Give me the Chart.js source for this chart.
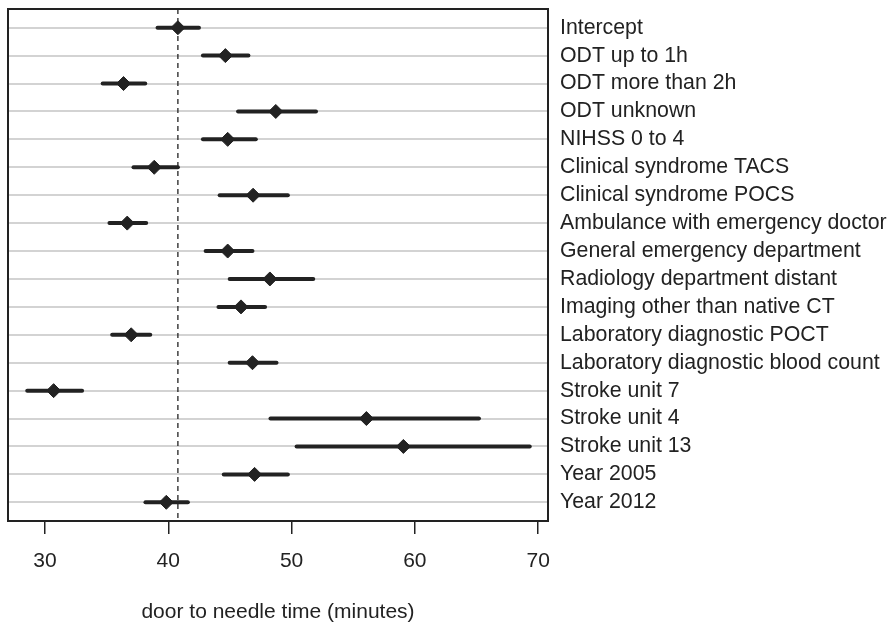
<!DOCTYPE html>
<html>
<head>
<meta charset="utf-8">
<script src="https://cdn.jsdelivr.net/npm/chart.js@4.4.1/dist/chart.umd.min.js"></script>
<style>
body{margin:0;background:#fff;}
canvas{display:block;}
</style>
</head>
<body>
<canvas id="grafico" width="888" height="623"></canvas>
<script>
// forest plot: estimate and CI per factor
const fatores=[
"Intercept",
"ODT up to 1h",
"ODT more than 2h",
"ODT unknown",
"NIHSS 0 to 4",
"Clinical syndrome TACS",
"Clinical syndrome POCS",
"Ambulance with emergency doctor",
"General emergency department",
"Radiology department distant",
"Imaging other than native CT",
"Laboratory diagnostic POCT",
"Laboratory diagnostic blood count",
"Stroke unit 7",
"Stroke unit 4",
"Stroke unit 13",
"Year 2005",
"Year 2012"
];

const estimativa=[40.78,44.63,36.37,48.72,44.82,38.86,46.88,36.67,44.82,48.24,45.90,36.99,46.83,30.70,56.07,59.07,47.00,39.84];
const inferior=[39.13,42.81,34.68,45.66,42.81,37.18,44.17,35.23,43.03,44.98,44.07,35.45,44.98,28.56,48.29,50.41,44.50,38.15];
const superior=[42.49,46.50,38.13,51.98,47.10,40.78,49.70,38.21,46.83,51.76,47.85,38.54,48.78,33.01,65.20,69.32,49.70,41.59];

const xTicks=[30,40,50,60,70];
const xMin=27.0, xMax=70.8;
const yMin=0.33, yMax=18.67;

const cor="#222";

const linhasIC=fatores.map((f,i)=>({
type:"line",
data:[{x:inferior[i],y:i+1},{x:superior[i],y:i+1}],
borderColor:cor,
borderWidth:4,
borderCapStyle:"round",
pointRadius:0,
order:1
}));

const referencia={
type:"line",
data:[{x:estimativa[0],y:yMin},{x:estimativa[0],y:yMax}],
borderColor:cor,
borderWidth:1.3,
borderDash:[5,4],
pointRadius:0,
order:2
};

const pontos={
type:"scatter",
data:estimativa.map((v,i)=>({x:v,y:i+1})),
pointStyle:"rectRot",
pointRadius:7,
backgroundColor:cor,
borderColor:cor,
borderWidth:1,
order:0
};

const moldura={
id:"moldura",
afterDraw(chart){
const a=chart.chartArea, ctx=chart.ctx;
ctx.save();
ctx.strokeStyle=cor;
ctx.lineWidth=2;
ctx.strokeRect(a.left,a.top,a.right-a.left,a.bottom-a.top);
ctx.restore();
}
};

Chart.defaults.font.family="'Liberation Sans', Arial, sans-serif";
Chart.defaults.color=cor;

new Chart(document.getElementById("grafico"),{
data:{datasets:[pontos,...linhasIC,referencia]},
options:{
responsive:false,
animation:false,
layout:{padding:{left:8,top:9,right:0,bottom:0}},
plugins:{legend:{display:false},tooltip:{enabled:false}},
scales:{
x:{
type:"linear",
min:xMin,
max:xMax,
afterBuildTicks:s=>{s.ticks=xTicks.map(v=>({value:v}));},
afterFit:s=>{s.height=102;s.paddingLeft=0;s.paddingRight=0;},
border:{display:false},
grid:{drawOnChartArea:false,drawTicks:true,tickLength:13,color:cor,lineWidth:1.5},
ticks:{padding:15,font:{size:21}},
title:{display:true,text:"door to needle time (minutes)",font:{size:21,lineHeight:1.05},padding:{top:0,bottom:0}}
},
y:{
type:"linear",
position:"right",
reverse:true,
min:yMin,
max:yMax,
afterBuildTicks:s=>{s.ticks=fatores.map((f,i)=>({value:i+1}));},
afterFit:s=>{s.width=340;s.paddingTop=0;s.paddingBottom=0;},
border:{display:false},
grid:{color:"#d3d3d3",lineWidth:2,drawTicks:false},
ticks:{autoSkip:false,padding:12,font:{size:21.3},callback:v=>fatores[v-1]}
}
}
},
plugins:[moldura]
});
</script>
</body>
</html>
